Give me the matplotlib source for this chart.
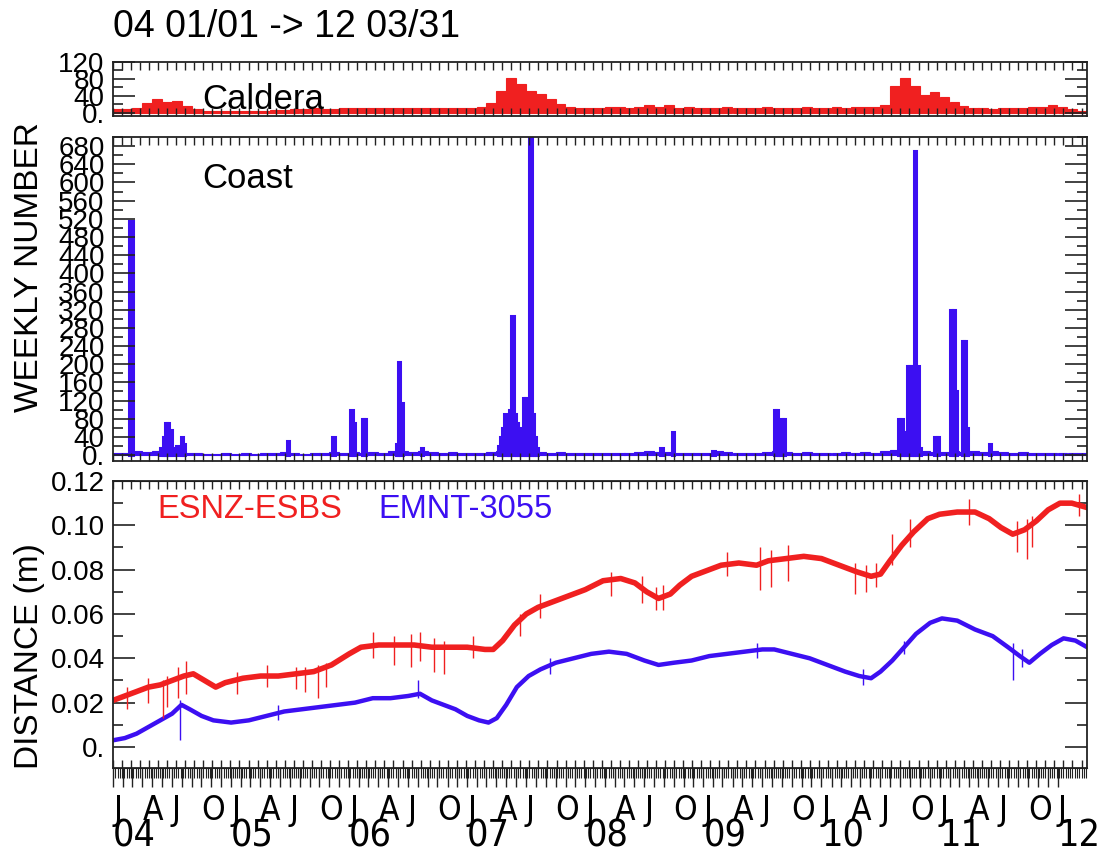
import numpy as np
import pandas as pd
import matplotlib
matplotlib.use("Agg")
import matplotlib.pyplot as plt
from matplotlib import font_manager as fm
from matplotlib.ticker import MultipleLocator

RED = "#f02020"
BLUE = "#3c0ff2"
plt.rcParams["font.family"] = ["Liberation Sans", "DejaVu Sans"]

# ---------------- data ----------------
# Caldera: monthly mean of weekly counts, Jan 2004 .. Mar 2012
caldera = [8, 8, 10, 22, 33, 24, 28, 15, 8, 5, 4, 4,
           3, 4, 4, 5, 6, 6, 8, 8, 10, 9, 9, 10,
           10, 10, 11, 12, 10, 12, 12, 10, 11, 12, 12, 11,
           12, 14, 22, 52, 82, 68, 52, 44, 32, 20, 14, 12,
           12, 12, 14, 13, 12, 14, 18, 14, 18, 12, 14, 12,
           11, 12, 14, 12, 12, 12, 14, 12, 10, 12, 13, 12,
           12, 14, 12, 14, 14, 13, 18, 62, 82, 62, 42, 50,
           38, 26, 16, 12, 10, 8, 12, 12, 10, 14, 13, 18,
           14, 8, 4]

# Coast: background level per month + individual weeks with swarms
coast_base = [5, 5, 8, 6, 8, 10, 8, 5, 4, 3, 3, 4,
              3, 4, 3, 4, 4, 6, 5, 3, 4, 5, 6, 5,
              6, 5, 6, 5, 8, 10, 6, 8, 6, 5, 6, 5,
              4, 5, 6, 10, 12, 10, 8, 6, 5, 6, 5, 5,
              4, 5, 4, 5, 5, 6, 8, 6, 6, 5, 5, 4,
              5, 8, 6, 5, 4, 5, 6, 10, 6, 5, 6, 5,
              4, 5, 6, 5, 6, 5, 8, 12, 10, 10, 8, 6,
              6, 8, 6, 8, 6, 10, 6, 5, 6, 5, 5, 4,
              4, 5, 4]

coast_weeks = ["2004-02-19", "2004-02-26",
               "2004-05-27", "2004-06-03", "2004-06-10", "2004-06-17", "2004-06-24",
               "2004-07-01", "2004-07-15", "2004-07-29", "2004-08-05",
               "2005-06-23", "2005-11-10",
               "2006-01-05", "2006-01-12", "2006-02-09", "2006-02-16",
               "2006-05-25", "2006-06-01", "2006-06-08", "2006-08-10",
               "2007-04-05", "2007-04-12", "2007-04-19", "2007-04-26", "2007-05-03",
               "2007-05-10", "2007-05-17", "2007-05-24", "2007-05-31", "2007-06-07",
               "2007-06-14", "2007-06-21", "2007-06-28", "2007-07-05", "2007-07-12",
               "2007-07-19", "2007-07-26", "2007-08-02",
               "2008-08-21", "2008-09-25", "2009-01-29",
               "2009-08-06", "2009-08-13", "2009-08-20", "2009-08-27", "2009-09-03",
               "2010-08-26", "2010-09-02", "2010-09-09", "2010-09-16", "2010-09-23",
               "2010-09-30", "2010-10-07", "2010-10-14", "2010-10-21", "2010-10-28",
               "2010-12-16", "2010-12-23",
               "2011-02-03", "2011-02-10", "2011-02-17",
               "2011-03-10", "2011-03-17", "2011-03-24", "2011-06-02"]
coast_counts = [515, 515,
                15, 40, 70, 70, 55,
                15, 20, 40, 25,
                30, 40,
                100, 70, 80, 80,
                25, 205, 115, 15,
                20, 40, 60, 90, 60,
                100, 305, 90, 70, 50,
                60, 125, 125, 80, 700,
                90, 40, 15,
                15, 50, 10,
                100, 100, 60, 80, 80,
                80, 80, 30, 50, 195,
                195, 195, 670, 195, 15,
                40, 40,
                320, 320, 140,
                250, 250, 60, 25]

# GPS baseline lengths (decimal year, metres)
esnz_t = [2004.00, 2004.10, 2004.20, 2004.30, 2004.40, 2004.50, 2004.60, 2004.68,
          2004.87, 2004.95, 2005.10, 2005.25, 2005.40, 2005.55, 2005.70, 2005.85,
          2006.00, 2006.10, 2006.25, 2006.40, 2006.55, 2006.70, 2006.85, 2007.00,
          2007.15, 2007.22, 2007.30, 2007.40, 2007.50, 2007.60, 2007.75, 2007.90,
          2008.00, 2008.15, 2008.30, 2008.42, 2008.52, 2008.62, 2008.72, 2008.80,
          2008.90, 2009.00, 2009.15, 2009.30, 2009.45, 2009.55, 2009.70, 2009.85,
          2010.00, 2010.15, 2010.30, 2010.42, 2010.50, 2010.58, 2010.68, 2010.78,
          2010.90, 2011.00, 2011.15, 2011.30, 2011.42, 2011.52, 2011.62, 2011.72,
          2011.82, 2011.92, 2012.02, 2012.12, 2012.25]
esnz_esbs = [0.021, 0.023, 0.025, 0.027, 0.028, 0.030, 0.032, 0.033,
             0.027, 0.029, 0.031, 0.032, 0.032, 0.033, 0.034, 0.037,
             0.042, 0.045, 0.046, 0.046, 0.046, 0.045, 0.045, 0.045,
             0.044, 0.044, 0.048, 0.055, 0.060, 0.063, 0.066, 0.069,
             0.071, 0.075, 0.076, 0.074, 0.070, 0.067, 0.069, 0.073,
             0.077, 0.079, 0.082, 0.083, 0.082, 0.084, 0.085, 0.086,
             0.085, 0.082, 0.079, 0.077, 0.078, 0.084, 0.091, 0.097,
             0.103, 0.105, 0.106, 0.106, 0.103, 0.099, 0.096, 0.098,
             0.102, 0.107, 0.110, 0.110, 0.108]

emnt_t = [2004.00, 2004.10, 2004.20, 2004.30, 2004.40, 2004.50, 2004.58, 2004.65,
          2004.75, 2004.85, 2005.00, 2005.15, 2005.30, 2005.45, 2005.60, 2005.75,
          2005.90, 2006.05, 2006.20, 2006.35, 2006.50, 2006.60, 2006.70, 2006.80,
          2006.90, 2007.00, 2007.10, 2007.18, 2007.25, 2007.33, 2007.42, 2007.52,
          2007.62, 2007.75, 2007.90, 2008.05, 2008.20, 2008.35, 2008.50, 2008.62,
          2008.75, 2008.90, 2009.05, 2009.20, 2009.35, 2009.50, 2009.60, 2009.75,
          2009.90, 2010.05, 2010.20, 2010.32, 2010.42, 2010.50, 2010.60, 2010.70,
          2010.80, 2010.92, 2011.02, 2011.15, 2011.30, 2011.45, 2011.58, 2011.68,
          2011.76, 2011.85, 2011.95, 2012.05, 2012.15, 2012.25]
emnt_3055 = [0.003, 0.004, 0.006, 0.009, 0.012, 0.015, 0.019, 0.017,
             0.014, 0.012, 0.011, 0.012, 0.014, 0.016, 0.017, 0.018,
             0.019, 0.020, 0.022, 0.022, 0.023, 0.024, 0.021, 0.019,
             0.017, 0.014, 0.012, 0.011, 0.013, 0.019, 0.027, 0.032,
             0.035, 0.038, 0.040, 0.042, 0.043, 0.042, 0.039, 0.037,
             0.038, 0.039, 0.041, 0.042, 0.043, 0.044, 0.044, 0.042,
             0.040, 0.037, 0.034, 0.032, 0.031, 0.034, 0.039, 0.045,
             0.051, 0.056, 0.058, 0.057, 0.053, 0.050, 0.045, 0.041,
             0.038, 0.042, 0.046, 0.049, 0.048, 0.045]

# outliers in the daily solutions (time, low, high)
esnz_out_t = [2004.12, 2004.30, 2004.42, 2004.46, 2004.55, 2004.62, 2005.05, 2005.30,
              2005.55, 2005.63, 2005.74, 2005.80, 2006.20, 2006.38, 2006.52, 2006.60,
              2006.72, 2006.80, 2007.05, 2007.45, 2007.62, 2008.22, 2008.48, 2008.60,
              2008.66, 2009.20, 2009.48, 2009.57, 2009.72, 2010.28, 2010.38, 2010.46,
              2010.60, 2010.75, 2011.25, 2011.66, 2011.74, 2011.78, 2012.18]
esnz_out_lo = [0.017, 0.020, 0.013, 0.018, 0.022, 0.024, 0.024, 0.027,
               0.026, 0.025, 0.022, 0.027, 0.040, 0.037, 0.036, 0.039,
               0.034, 0.033, 0.040, 0.050, 0.058, 0.068, 0.065, 0.062,
               0.062, 0.077, 0.071, 0.072, 0.075, 0.069, 0.070, 0.072,
               0.082, 0.090, 0.100, 0.088, 0.085, 0.090, 0.104]
esnz_out_hi = [0.027, 0.031, 0.030, 0.032, 0.036, 0.039, 0.034, 0.037,
               0.036, 0.036, 0.037, 0.038, 0.052, 0.050, 0.051, 0.052,
               0.049, 0.048, 0.050, 0.060, 0.069, 0.079, 0.077, 0.072,
               0.073, 0.088, 0.090, 0.089, 0.091, 0.083, 0.082, 0.083,
               0.096, 0.103, 0.112, 0.102, 0.103, 0.104, 0.114]
emnt_out_t = [2004.57, 2005.40, 2006.58, 2007.70, 2009.45, 2010.35, 2010.70, 2011.62,
              2011.70]
emnt_out_lo = [0.003, 0.012, 0.022, 0.033, 0.040, 0.028, 0.042, 0.030,
               0.036]
emnt_out_hi = [0.021, 0.019, 0.030, 0.040, 0.047, 0.035, 0.048, 0.047,
               0.044]

month_letters = ["J", "", "", "A", "", "", "J", "", "", "O", "", ""]
year_labels = ["04", "05", "06", "07", "08", "09", "10", "11", "12"]


def decyear(d):
    d = pd.DatetimeIndex(pd.to_datetime(d))
    return np.asarray(d.year + (d.dayofyear - 1) / (365 + d.is_leap_year.astype(int)))


# condensed face for the date labels, if one is installed
narrow_fp = None
for f in fm.fontManager.ttflist:
    st = str(f.stretch)
    if ("Narrow" in f.name or "Condensed" in f.name or st in ("condensed", "semi-condensed")) \
            and f.style == "normal" and str(f.weight) in ("normal", "400", "regular"):
        narrow_fp = fm.FontProperties(fname=f.fname)
        break
if narrow_fp is None:
    month_kw = dict(family="Liberation Sans", fontsize=18)
    year_kw = dict(family="Liberation Sans", fontsize=24)
else:
    month_fp = narrow_fp.copy()
    month_fp.set_size(24)
    year_fp = narrow_fp.copy()
    year_fp.set_size(27)
    month_kw = dict(fontproperties=month_fp)
    year_kw = dict(fontproperties=year_fp)

months = pd.date_range("2004-01-01", "2012-03-01", freq="MS")
month_x = decyear(months)
week_x = decyear(coast_weeks)
x0, x1 = 2004.0, decyear(["2012-03-31"])[0] + 1 / 366

inner_ticks = decyear(pd.date_range("2004-01-01", "2012-03-31", freq="28D"))
week_ticks = decyear(pd.date_range("2004-01-01", "2012-03-31", freq="7D"))
year_x = decyear(pd.date_range("2004-01-01", "2012-01-01", freq="YS"))

# ---------------- figure ----------------
W, H = 1105, 855
fig = plt.figure(figsize=(W / 100, H / 100), dpi=100)


def box(top, bottom, left=113, right=1087):
    return [left / W, 1 - bottom / H, (right - left) / W, (bottom - top) / H]


ax1 = fig.add_axes(box(62, 116))
ax2 = fig.add_axes(box(137, 461))
ax3 = fig.add_axes(box(481, 768))

for ax in (ax1, ax2, ax3):
    ax.set_xlim(x0, x1)
    for s in ax.spines.values():
        s.set_linewidth(1.3)
        s.set_color("#222222")
    ax.tick_params(axis="y", which="both", direction="in", left=True, right=True,
                   width=1.2, color="#222222", labelsize=20, pad=6)
    ax.tick_params(axis="y", which="major", length=16)
    ax.tick_params(axis="y", which="minor", length=7)

# top: Caldera
ax1.bar(month_x, caldera, width=1 / 12, align="edge", color=RED, edgecolor=RED, linewidth=0.8)
ax1.set_ylim(-8, 120)
ax1.set_yticks([0, 40, 80, 120], ["0.", "40", "80", "120"])
ax1.yaxis.set_minor_locator(MultipleLocator(20))
ax1.text(0.092, 0.30, "Caldera", transform=ax1.transAxes, fontsize=25, va="center")

# middle: Coast
ax2.bar(month_x, coast_base, width=1 / 12, align="edge", color=BLUE, edgecolor=BLUE, linewidth=0.8)
ax2.bar(week_x, coast_counts, width=7 / 365.25, align="edge", color=BLUE, edgecolor=BLUE, linewidth=2.2)
ax2.set_ylim(-13, 700)
yt = list(range(0, 681, 40))
ax2.set_yticks(yt, ["0."] + [str(v) for v in yt[1:]])
ax2.yaxis.set_minor_locator(MultipleLocator(20))
ax2.text(0.092, 0.873, "Coast", transform=ax2.transAxes, fontsize=25, va="center")

for ax in (ax1, ax2):
    ax.set_xticks(inner_ticks, [])
    ax.tick_params(axis="x", which="major", direction="in", top=True, bottom=True,
                   length=6, width=1.0, color="#222222")

# bottom: distances
ax3.plot(esnz_t, esnz_esbs, color=RED, lw=4.0, solid_joinstyle="round")
ax3.plot(emnt_t, emnt_3055, color=BLUE, lw=3.2, solid_joinstyle="round")
ax3.vlines(esnz_out_t, esnz_out_lo, esnz_out_hi, color=RED, lw=1.0)
ax3.vlines(emnt_out_t, emnt_out_lo, emnt_out_hi, color=BLUE, lw=1.0)
ax3.set_ylim(-0.0095, 0.12)
yt3 = [0, 0.02, 0.04, 0.06, 0.08, 0.10, 0.12]
ax3.set_yticks(yt3, ["0.", "0.02", "0.04", "0.06", "0.08", "0.10", "0.12"])
ax3.yaxis.set_minor_locator(MultipleLocator(0.01))
ax3.text(0.046, 0.899, "ESNZ-ESBS", color=RED, transform=ax3.transAxes, fontsize=23.5, va="center")
ax3.text(0.272, 0.899, "EMNT-3055", color=BLUE, transform=ax3.transAxes, fontsize=23.5, va="center")

ax3.set_xticks(month_x[:-2], [month_letters[m.month - 1] for m in months[:-2]],
               ha="left", **month_kw)
ax3.set_xticks(week_ticks, minor=True)
ax3.tick_params(axis="x", which="major", direction="out", length=14, width=1.0,
                color="#222222", pad=5)
ax3.tick_params(axis="x", which="minor", direction="out", length=7, width=0.8,
                color="#222222")

sec_top = ax3.secondary_xaxis("top")
sec_top.set_xticks(inner_ticks, [])
sec_top.tick_params(direction="in", length=6, width=1.0, color="#222222")
sec_bot = ax3.secondary_xaxis("bottom")
sec_bot.set_xticks(inner_ticks, [])
sec_bot.tick_params(direction="in", length=6, width=1.0, color="#222222")
sec_year = ax3.secondary_xaxis("bottom")
sec_year.set_xticks(year_x, year_labels, ha="left", **year_kw)
sec_year.tick_params(length=0, pad=36)
sec_year.spines["bottom"].set_visible(False)

fig.text(113 / W, 1 - 27 / H, "04 01/01 -> 12 03/31", fontsize=27, va="center", ha="left")
fig.text(30 / W, 1 - 267 / H, "WEEKLY NUMBER", rotation=90, fontsize=24, va="center", ha="center")
fig.text(30 / W, 1 - 656 / H, "DISTANCE (m)", rotation=90, fontsize=24, va="center", ha="center")

fig.savefig("out.png", dpi=100)
